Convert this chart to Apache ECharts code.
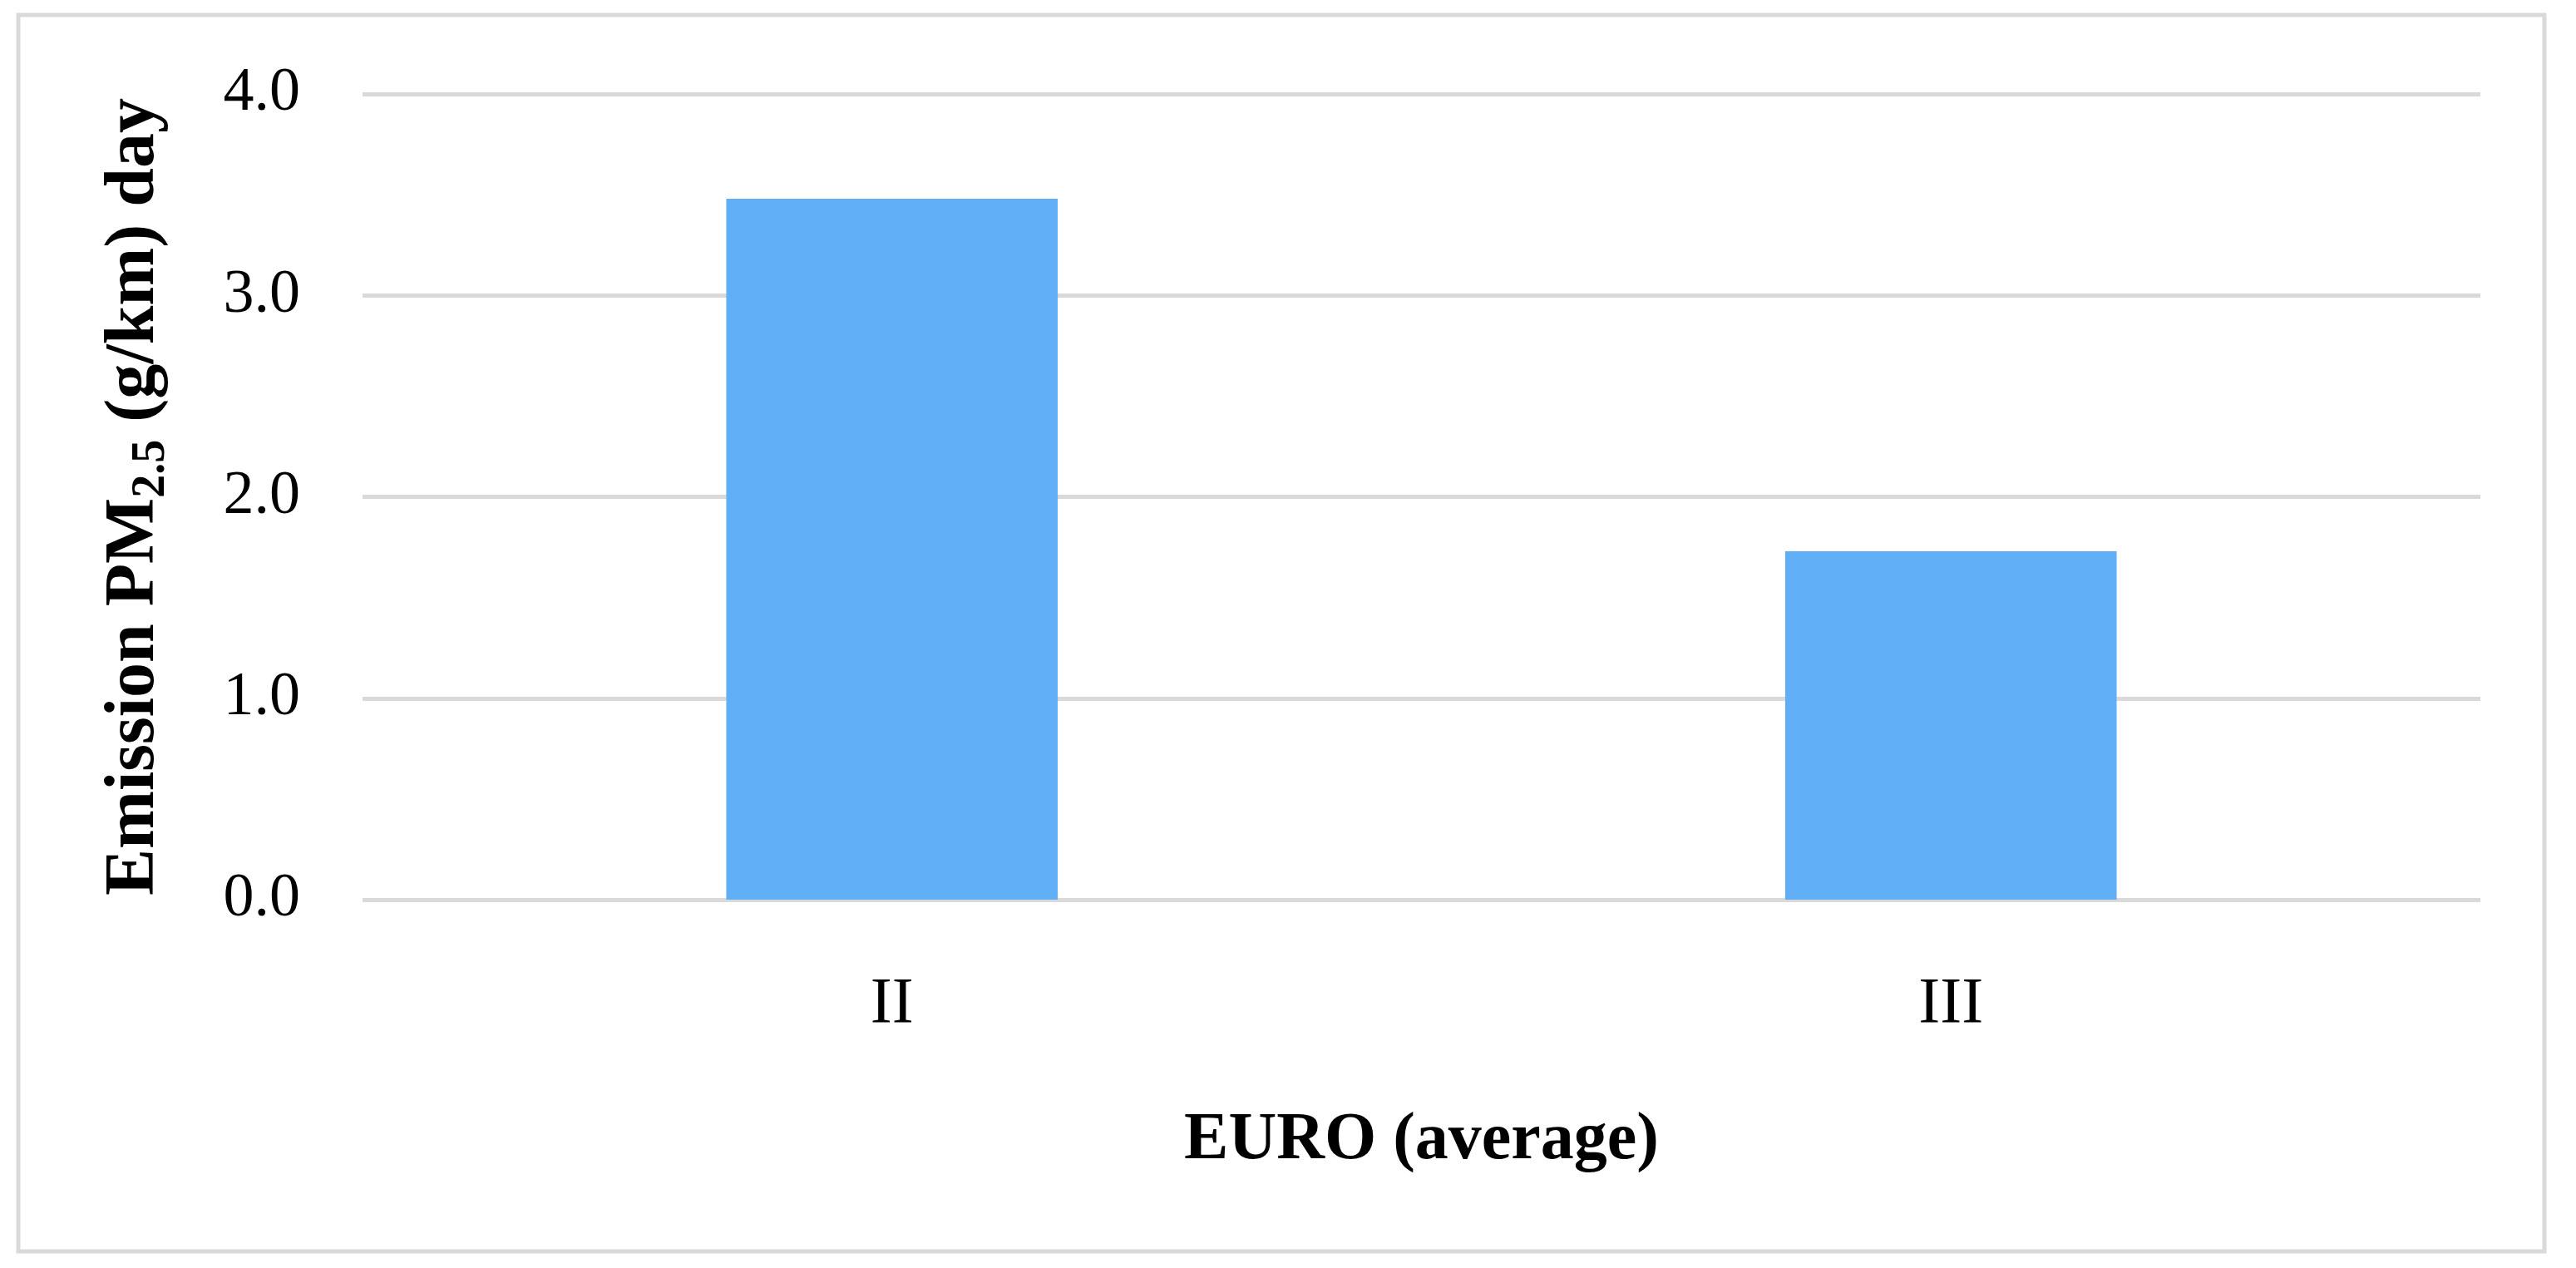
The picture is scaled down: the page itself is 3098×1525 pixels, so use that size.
<!DOCTYPE html>
<html><head><meta charset="utf-8">
<script src="https://cdn.jsdelivr.net/npm/echarts@6/dist/echarts.min.js"></script>
<style>html,body{margin:0;padding:0;background:#fff}#c{width:3098px;height:1525px}</style>
</head><body><div id="c"></div>
<script>
const categories = ['II', 'III'];
const values = [3.48, 1.73];
const yTicks = [0, 1, 2, 3, 4];
const F = 'Liberation Serif, DejaVu Serif, serif';
const chart = echarts.init(document.getElementById('c'));
chart.setOption({
  animation: false,
  graphic: [{type: 'rect', shape: {x: 22, y: 18, width: 3038, height: 1487},
    style: {fill: 'none', stroke: '#d9d9d9', lineWidth: 5}}],
  grid: {left: 436, right: 115, top: 113, bottom: 443},
  xAxis: {
    type: 'category', data: categories,
    axisLine: {show: false}, axisTick: {show: false},
    axisLabel: {fontFamily: F, fontSize: 78, color: '#000', margin: 88},
    name: 'EURO (average)', nameLocation: 'middle', nameGap: 250,
    nameTextStyle: {fontFamily: F, fontSize: 80, fontWeight: 'bold', color: '#000'}
  },
  yAxis: {
    type: 'value', min: yTicks[0], max: yTicks[yTicks.length - 1], interval: 1,
    axisLabel: {fontFamily: F, fontSize: 74, color: '#000', margin: 75,
      formatter: v => v.toFixed(1)},
    splitLine: {lineStyle: {color: '#d9d9d9', width: 5}},
    name: 'Emission PM{sub|2.5} (g/km) day', nameLocation: 'middle', nameGap: 225,
    nameTextStyle: {fontFamily: F, fontSize: 84, fontWeight: 'bold', color: '#000',
      rich: {sub: {fontFamily: F, fontSize: 56, fontWeight: 'bold', color: '#000', verticalAlign: 'bottom', padding: [42, 0, 0, 0]}}}
  },
  series: [{type: 'bar', data: values, barWidth: '31.3%', itemStyle: {color: '#5faef6'}}]
});
</script></body></html>
